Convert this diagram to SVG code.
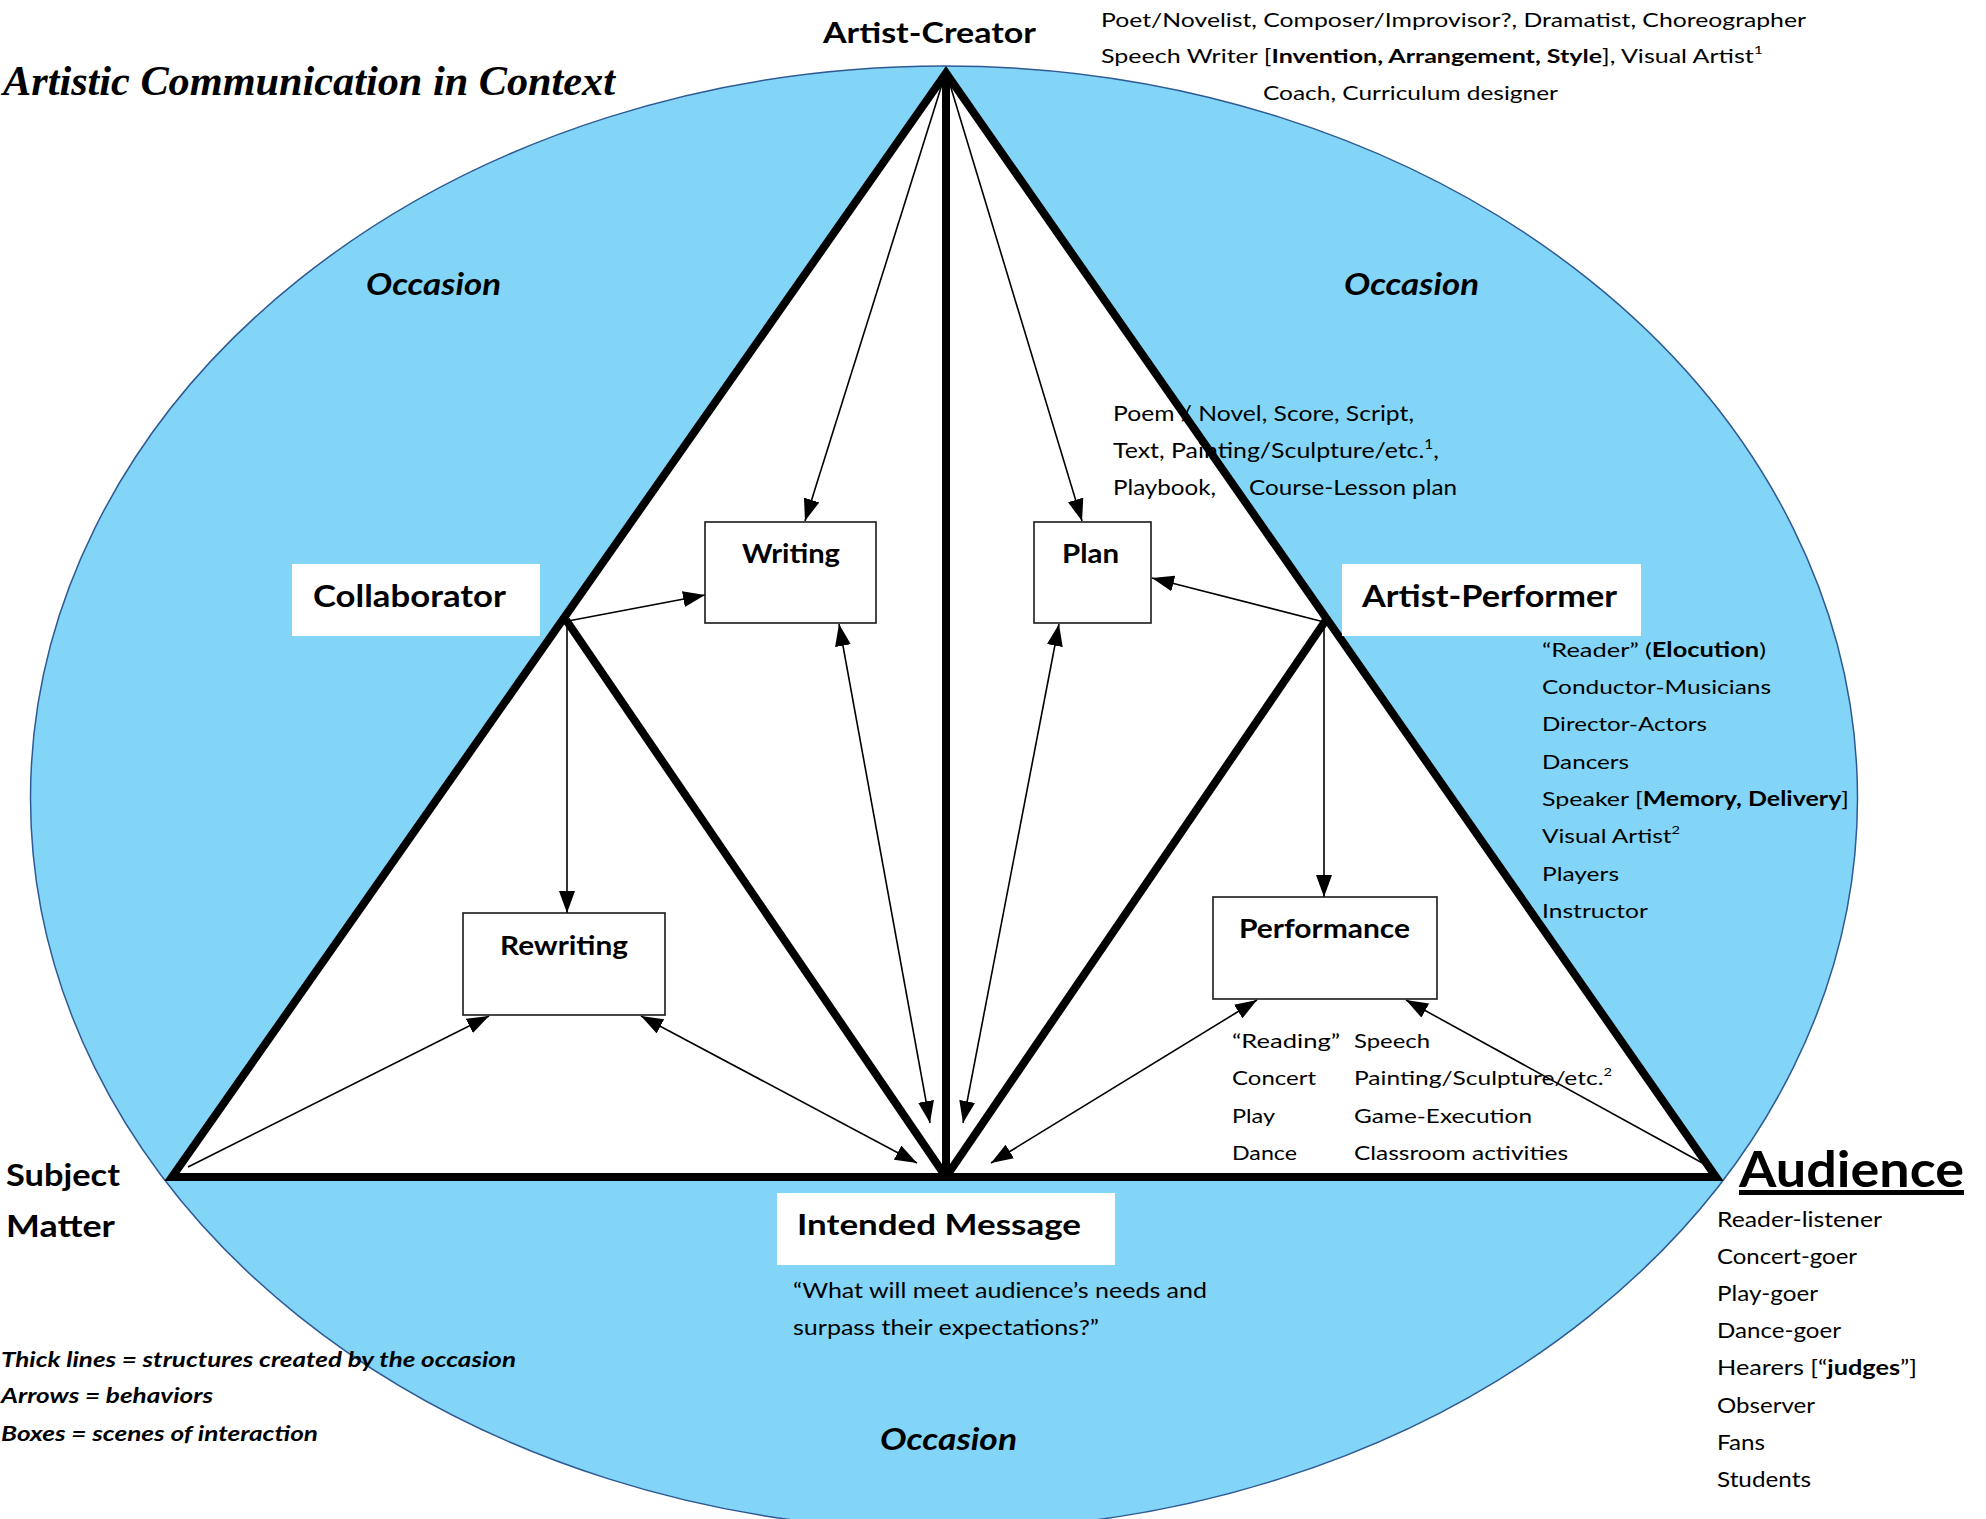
<svg xmlns="http://www.w3.org/2000/svg" width="1986" height="1519" viewBox="0 0 1986 1519">
<style>
.t{font-family:Lato,"Liberation Sans",sans-serif;fill:#000}
.b{font-weight:bold}
.i{font-style:italic}
.s20{font-size:20px}
.s21{font-size:21px}
.box{fill:#fff;stroke:#1a1a1a;stroke-width:1.6}
.lbl{fill:#fff;stroke:none}
.thick{fill:none;stroke:#000;stroke-width:8}
.thin{fill:none;stroke:#000;stroke-width:1.6}
.one{marker-end:url(#ah)}
.two{marker-start:url(#ah);marker-end:url(#ah)}
</style>
<defs>
<marker id="ah" markerUnits="userSpaceOnUse" markerWidth="22" markerHeight="16" refX="22" refY="8" orient="auto-start-reverse">
<path d="M0,0 L22,8 L0,16 z" fill="#000"/>
</marker>
</defs>
<rect width="1986" height="1519" fill="#fff"/>
<g id="occasion-field">
<ellipse cx="944" cy="798" rx="913.5" ry="732" fill="#82D5F7" stroke="#2E5A94" stroke-width="1.5"/>
<polygon points="946,73 172,1177 1716,1177" fill="#fff"/>
</g>
<text id="title" x="3" y="95" font-family="Liberation Serif,serif" font-weight="bold" font-style="italic" font-size="42" textLength="612" lengthAdjust="spacingAndGlyphs">Artistic Communication in Context</text>
<g id="occasion-labels">
<text class="t b i" x="366" y="295" font-size="30" textLength="135" lengthAdjust="spacingAndGlyphs">Occasion</text>
<text class="t b i" x="1344" y="295" font-size="30" textLength="135" lengthAdjust="spacingAndGlyphs">Occasion</text>
<text class="t b i" x="880" y="1450" font-size="30" textLength="137" lengthAdjust="spacingAndGlyphs">Occasion</text>
</g>
<g id="artist-creator">
<text class="t b" x="823" y="43" font-size="29" textLength="213" lengthAdjust="spacingAndGlyphs">Artist-Creator</text>
<text class="t" x="1101" y="27" font-size="19" textLength="705" lengthAdjust="spacingAndGlyphs">Poet/Novelist, Composer/Improvisor?, Dramatist, Choreographer</text>
<text class="t" x="1101" y="63" font-size="19" textLength="662" lengthAdjust="spacingAndGlyphs">Speech Writer [<tspan class="b">Invention, Arrangement, Style</tspan>], Visual Artist<tspan dy="-9" font-size="12">1</tspan></text>
<text class="t" x="1263" y="100" font-size="19" textLength="295" lengthAdjust="spacingAndGlyphs">Coach, Curriculum designer</text>
</g>
<g id="plan-products">
<text class="t s21" x="1113" y="421" textLength="301" lengthAdjust="spacingAndGlyphs">Poem / Novel, Score, Script,</text>
<text class="t s21" x="1113" y="458" textLength="326" lengthAdjust="spacingAndGlyphs">Text, Painting/Sculpture/etc.<tspan dy="-9" font-size="13">1</tspan><tspan dy="9">,</tspan></text>
<text class="t s21" x="1113" y="495" textLength="103" lengthAdjust="spacingAndGlyphs">Playbook,</text>
<text class="t s21" x="1249" y="495" textLength="208" lengthAdjust="spacingAndGlyphs">Course-Lesson plan</text>
</g>
<g id="performance-products">
<text class="t s20" x="1232" y="1048" textLength="108" lengthAdjust="spacingAndGlyphs">“Reading”</text>
<text class="t s20" x="1232" y="1085" textLength="84" lengthAdjust="spacingAndGlyphs">Concert</text>
<text class="t s20" x="1232" y="1123" textLength="43" lengthAdjust="spacingAndGlyphs">Play</text>
<text class="t s20" x="1232" y="1160" textLength="65" lengthAdjust="spacingAndGlyphs">Dance</text>
<text class="t s20" x="1354" y="1048" textLength="76" lengthAdjust="spacingAndGlyphs">Speech</text>
<text class="t s20" x="1354" y="1085" textLength="258" lengthAdjust="spacingAndGlyphs">Painting/Sculpture/etc.<tspan dy="-9" font-size="12">2</tspan></text>
<text class="t s20" x="1354" y="1123" textLength="178" lengthAdjust="spacingAndGlyphs">Game-Execution</text>
<text class="t s20" x="1354" y="1160" textLength="214" lengthAdjust="spacingAndGlyphs">Classroom activities</text>
</g>
<g id="performer-roles">
<text class="t s20" x="1542" y="657" textLength="224" lengthAdjust="spacingAndGlyphs">“Reader” (<tspan class="b">Elocution</tspan>)</text>
<text class="t s20" x="1542" y="694" textLength="229" lengthAdjust="spacingAndGlyphs">Conductor-Musicians</text>
<text class="t s20" x="1542" y="731" textLength="165" lengthAdjust="spacingAndGlyphs">Director-Actors</text>
<text class="t s20" x="1542" y="769" textLength="87" lengthAdjust="spacingAndGlyphs">Dancers</text>
<text class="t s20" x="1542" y="806" textLength="307" lengthAdjust="spacingAndGlyphs">Speaker [<tspan class="b">Memory, Delivery</tspan>]</text>
<text class="t s20" x="1542" y="843" textLength="138" lengthAdjust="spacingAndGlyphs">Visual Artist<tspan dy="-9" font-size="12">2</tspan></text>
<text class="t s20" x="1542" y="881" textLength="77" lengthAdjust="spacingAndGlyphs">Players</text>
<text class="t s20" x="1542" y="918" textLength="106" lengthAdjust="spacingAndGlyphs">Instructor</text>
</g>
<g id="subject-matter">
<text class="t b" x="6" y="1186" font-size="30" textLength="114" lengthAdjust="spacingAndGlyphs">Subject</text>
<text class="t b" x="6" y="1237" font-size="30" textLength="109" lengthAdjust="spacingAndGlyphs">Matter</text>
</g>
<g id="legend">
<text class="t b i s21" x="1" y="1367" textLength="515" lengthAdjust="spacingAndGlyphs">Thick lines = structures created by the occasion</text>
<text class="t b i s21" x="1" y="1403" textLength="212" lengthAdjust="spacingAndGlyphs">Arrows = behaviors</text>
<text class="t b i s21" x="1" y="1441" textLength="317" lengthAdjust="spacingAndGlyphs">Boxes = scenes of interaction</text>
</g>
<g id="audience">
<text class="t b" x="1739" y="1187" font-size="50" text-decoration="underline" textLength="225" lengthAdjust="spacingAndGlyphs">Audience</text>
<text class="t s21" x="1717" y="1227" textLength="165" lengthAdjust="spacingAndGlyphs">Reader-listener</text>
<text class="t s21" x="1717" y="1264" textLength="140" lengthAdjust="spacingAndGlyphs">Concert-goer</text>
<text class="t s21" x="1717" y="1301" textLength="101" lengthAdjust="spacingAndGlyphs">Play-goer</text>
<text class="t s21" x="1717" y="1338" textLength="124" lengthAdjust="spacingAndGlyphs">Dance-goer</text>
<text class="t s21" x="1717" y="1375" textLength="200" lengthAdjust="spacingAndGlyphs">Hearers [“<tspan class="b">judges</tspan>”]</text>
<text class="t s21" x="1717" y="1413" textLength="98" lengthAdjust="spacingAndGlyphs">Observer</text>
<text class="t s21" x="1717" y="1450" textLength="48" lengthAdjust="spacingAndGlyphs">Fans</text>
<text class="t s21" x="1717" y="1487" textLength="94" lengthAdjust="spacingAndGlyphs">Students</text>
</g>
<g id="connectors">
<polygon class="thick" points="946,73 172,1177 1716,1177" stroke-linejoin="miter"/>
<line class="thick" x1="946" y1="73" x2="946" y2="1177"/>
<path class="thick" d="M566,620 L946,1177 L1326,620" stroke-width="7" stroke-linejoin="bevel"/>
<line class="thin one" x1="944" y1="78" x2="805" y2="521"/>
<line class="thin one" x1="948" y1="78" x2="1082" y2="521"/>
<line class="thin two" x1="839" y1="624" x2="930" y2="1123"/>
<line class="thin two" x1="1059" y1="624" x2="963" y2="1123"/>
<line class="thin one" x1="568" y1="621" x2="705" y2="595"/>
<line class="thin one" x1="567" y1="622" x2="567" y2="913"/>
<line class="thin one" x1="1324" y1="622" x2="1152" y2="578"/>
<line class="thin one" x1="1324" y1="622" x2="1324" y2="897"/>
<line class="thin one" x1="188" y1="1167" x2="489" y2="1016"/>
<line class="thin two" x1="641" y1="1016" x2="917" y2="1163"/>
<line class="thin two" x1="1257" y1="1000" x2="991" y2="1163"/>
<line class="thin one" x1="1706" y1="1165" x2="1406" y2="1000"/>
</g>
<g id="writing">
<rect class="box" x="705" y="522" width="171" height="101"/>
<text class="t b" x="742" y="563" font-size="27" textLength="98" lengthAdjust="spacingAndGlyphs">Writing</text>
</g>
<g id="plan">
<rect class="box" x="1034" y="522" width="117" height="101"/>
<text class="t b" x="1062" y="563" font-size="27" textLength="57" lengthAdjust="spacingAndGlyphs">Plan</text>
</g>
<g id="rewriting">
<rect class="box" x="463" y="913" width="202" height="102"/>
<text class="t b" x="500" y="955" font-size="27" textLength="128" lengthAdjust="spacingAndGlyphs">Rewriting</text>
</g>
<g id="performance">
<rect class="box" x="1213" y="897" width="224" height="102"/>
<text class="t b" x="1239" y="938" font-size="27" textLength="171" lengthAdjust="spacingAndGlyphs">Performance</text>
</g>
<g id="collaborator">
<rect class="lbl" x="292" y="564" width="248" height="72"/>
<text class="t b" x="313" y="607" font-size="30" textLength="193" lengthAdjust="spacingAndGlyphs">Collaborator</text>
</g>
<g id="artist-performer">
<rect class="lbl" x="1342" y="564" width="299" height="72"/>
<text class="t b" x="1362" y="607" font-size="30" textLength="255" lengthAdjust="spacingAndGlyphs">Artist-Performer</text>
</g>
<g id="intended-message">
<rect class="lbl" x="777" y="1193" width="338" height="72"/>
<text class="t b" x="797" y="1235" font-size="28" textLength="284" lengthAdjust="spacingAndGlyphs">Intended Message</text>
<text class="t s21" x="793" y="1298" textLength="414" lengthAdjust="spacingAndGlyphs">“What will meet audience’s needs and</text>
<text class="t s21" x="793" y="1335" textLength="306" lengthAdjust="spacingAndGlyphs">surpass their expectations?”</text>
</g>
</svg>
